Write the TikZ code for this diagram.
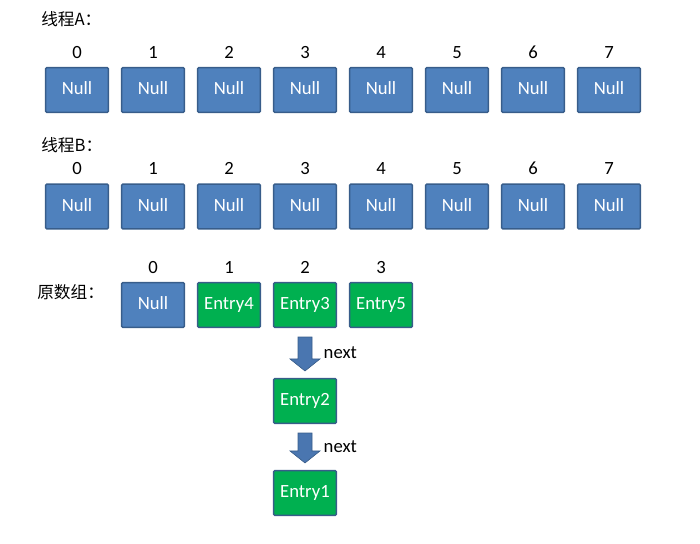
\documentclass[tikz,border=0pt]{standalone}
\usepackage{fontspec}
\setmainfont[Numbers=Lining]{Carlito}
\newfontfamily\cjk{Noto Sans CJK SC}
\usetikzlibrary{calc}

\begin{document}
\begin{tikzpicture}[x=0.75pt, y=-0.75pt]
    \definecolor{borderColour}{HTML}{385D8A}
    \definecolor{nullColour}{HTML}{4F81BD}
    \definecolor{entryColour}{HTML}{00B050}
    \definecolor{arrowColour}{HTML}{4A76B0}

    \tikzset{
        cell/.style={draw=borderColour, line width=1.1pt, rounded corners=0.8pt, minimum width=47pt,
            minimum height=33.5pt, inner sep=0pt, text=white, text height=9pt, text depth=2pt,
            font=\fontsize{14}{16}\selectfont},
        nullcell/.style={cell, fill=nullColour},
        entrycell/.style={cell, fill=entryColour},
        idx/.style={anchor=base, inner sep=0pt, font=\fontsize{14}{16}\selectfont},
        title/.style={anchor=west, inner sep=0pt, font=\cjk\fontsize{12.5}{15}\selectfont},
        blockarrow/.style={fill=arrowColour, draw=borderColour, line width=0.5pt}
    }

    \useasboundingbox (0,0) rectangle (700,543);

    % Thread A
    \node[title] (titleA) at (41,19) {线程A：};
    \foreach \i in {0,...,7} {
        \node[nullcell] (a\i) at (77+76*\i,90) {Null};
        \node[idx] (ia\i) at (77+76*\i,58) {\i};
    }

    % Thread B
    \node[title] (titleB) at (41,145) {线程B：};
    \foreach \i in {0,...,7} {
        \node[nullcell] (b\i) at (77+76*\i,206.5) {Null};
        \node[idx] (ib\i) at (77+76*\i,174.5) {\i};
    }

    % Original array
    \node[title] (titleO) at (37,292) {原数组：};
    \node[nullcell] (o0) at (153,305) {Null};
    \node[entrycell] (o1) at (229,305) {Entry4};
    \node[entrycell] (o2) at (305,305) {Entry3};
    \node[entrycell] (o3) at (381,305) {Entry5};
    \foreach \i in {0,...,3}
        \node[idx] (io\i) at (153+76*\i,273.5) {\i};

    % Chain hanging off slot 2
    \node[entrycell] (e2) at (305,401) {Entry2};
    \node[entrycell] (e1) at (305,493) {Entry1};

    % Block arrows
    \foreach \from/\to in {o2/e2, e2/e1} {
        \coordinate (top) at ($(\from.south)+(0,9)$);
        \coordinate (tip) at ($(\to.north)+(0,-7)$);
        \filldraw[blockarrow] ($(top)+(-7,0)$) -- ($(top)+(7,0)$) -- ($(tip)+(7,-12)$)
            -- ($(tip)+(15,-12)$) -- (tip) -- ($(tip)+(-15,-12)$) -- ($(tip)+(-7,-12)$) -- cycle;
        \node[font=\fontsize{14}{16}\selectfont, anchor=west] (n\to)
            at ($(\from.south)!0.5!(\to.north)+(14,0)$) {next};
    }

\end{tikzpicture}
\end{document}
